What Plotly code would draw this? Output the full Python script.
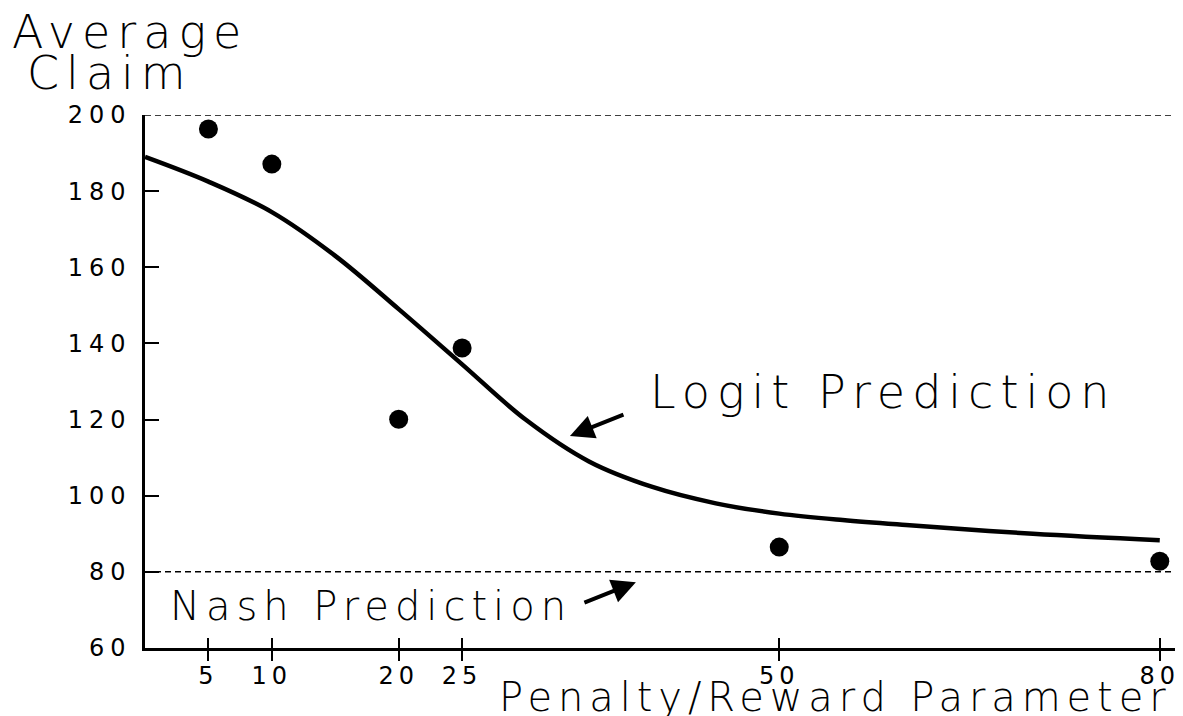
import plotly.graph_objects as go

# Data
param = [5, 10, 20, 25, 50, 80]
avg_claim = [196.3, 187.1, 120.1, 138.8, 86.5, 82.8]

logit_x = [0, 5, 10, 15, 20, 25, 30, 35, 40, 45, 50, 55, 60, 70, 80]
logit_y = [189, 182.5, 174.5, 163, 149, 134.5, 120, 109, 102.3, 98.0, 95.3, 93.6, 92.3, 90.0, 88.3]

ref_x = [0, 81]
upper_bound = 200
nash_value = 80

x_ticks = [5, 10, 20, 25, 50, 80]
y_ticks = [60, 80, 100, 120, 140, 160, 180, 200]

FONT = "DejaVu Sans"

def spaced(t, ls):
    return f'<span style="letter-spacing:{ls}px">{t}</span>'

fig = go.Figure()

fig.add_trace(go.Scatter(x=ref_x, y=[upper_bound, upper_bound], mode="lines",
                         line=dict(color="black", width=1.5, dash="6px,4px"),
                         xaxis="x2", showlegend=False, hoverinfo="skip"))
fig.add_trace(go.Scatter(x=ref_x, y=[nash_value, nash_value], mode="lines",
                         line=dict(color="black", width=1.5, dash="6px,4px"),
                         showlegend=False, hoverinfo="skip"))
fig.add_trace(go.Scatter(x=logit_x, y=logit_y, mode="lines",
                         line=dict(color="black", width=4.5, shape="spline", smoothing=1.0),
                         showlegend=False))
fig.add_trace(go.Scatter(x=param, y=avg_claim, mode="markers",
                         marker=dict(color="black", size=19, symbol="circle"),
                         showlegend=False))

L, R, T, B = 145, 8, 115, 68
fig.update_layout(
    width=1183, height=716,
    margin=dict(l=L, r=R, t=T, b=B, autoexpand=False),
    paper_bgcolor="white", plot_bgcolor="white",
    font=dict(family=FONT, color="black"),
    xaxis=dict(range=[0, 81.2], tickvals=x_ticks,
               ticktext=[spaced(str(v), 5) for v in x_ticks],
               ticks="outside", ticklen=10, tickwidth=1.5, tickcolor="black",
               showline=True, linewidth=2.5, linecolor="black",
               showgrid=False, zeroline=False, automargin=False,
               tickfont=dict(size=24, family=FONT), ticklabelstandoff=-6),
    xaxis2=dict(range=[0, 81.2], overlaying="x", anchor="y", side="bottom",
                tickvals=x_ticks, ticks="inside", ticklen=10, tickwidth=1.5,
                tickcolor="black", showticklabels=False, showline=False,
                showgrid=False, zeroline=False, automargin=False),
    yaxis=dict(range=[60, 200], tickvals=y_ticks,
               ticktext=[spaced(str(v), 6) for v in y_ticks],
               ticks="inside", ticklen=14, tickwidth=1.5, tickcolor="black",
               showline=True, linewidth=2.5, linecolor="black",
               showgrid=False, zeroline=False, automargin=False,
               tickfont=dict(size=24, family=FONT), ticklabelstandoff=6),
)

W = 1183 - L - R
H = 716 - T - B

def px(x):
    return (x - L) / W

def py(y):
    return (716 - B - y) / H

annos = [
    dict(text=spaced("Average", 7), x=px(10), y=py(32), xanchor="left", size=46),
    dict(text=spaced("Claim", 7), x=px(25), y=py(73), xanchor="left", size=46),
    dict(text=spaced("Logit Prediction", 7), x=px(648), y=py(392), xanchor="left", size=46),
    dict(text=spaced("Nash Prediction", 6), x=px(168), y=py(606), xanchor="left", size=40),
    dict(text=spaced("Penalty/Reward Parameter", 5.9), x=px(497), y=py(697), xanchor="left", size=40),
]
for a in annos:
    fig.add_annotation(text=a["text"], x=a["x"], y=a["y"], xref="paper", yref="paper",
                       xanchor=a["xanchor"], yanchor="middle", showarrow=False,
                       font=dict(size=a["size"], family=FONT, color="black", weight=300))

# arrows
fig.add_annotation(x=33.5, y=115.7, xref="x", yref="y", text="", showarrow=True,
                   ax=55, ay=-22, arrowhead=2, arrowsize=1.2, arrowwidth=4, arrowcolor="black")
fig.add_annotation(x=38.7, y=77.3, xref="x", yref="y", text="", showarrow=True,
                   ax=-53, ay=21, arrowhead=2, arrowsize=1.2, arrowwidth=4, arrowcolor="black")

fig.write_html("out.html", config={"displayModeBar": False},
               post_script="document.body.style.margin='0';document.body.style.overflow='hidden';")
